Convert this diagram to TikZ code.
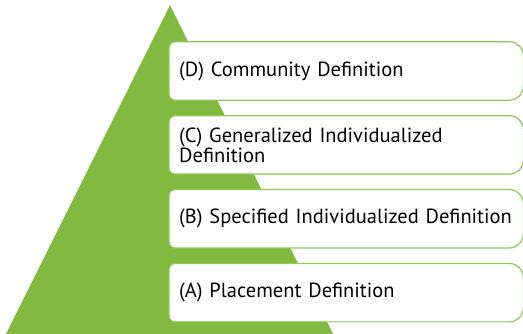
\documentclass[tikz,border=0pt]{standalone}
\usepackage{fontspec}
\setmainfont{PT Sans}
\usetikzlibrary{positioning}

\definecolor{leafgreen}{RGB}{130,186,65}
\definecolor{rimgreen}{RGB}{146,200,88}

% tight word spacing for the level labels
\newcommand\levelfont{\fontsize{20.5}{20}\selectfont\spaceskip=0.11em\relax}

\tikzset{
  level/.style={fill=white, rounded corners=6pt, minimum width=354pt,
    minimum height=58pt, inner xsep=10pt, text width=334pt, align=left,
    font=\levelfont},
  rim/.style={draw=rimgreen, line width=1.2pt}
}

\begin{document}
\begin{tikzpicture}[x=1pt,y=-1pt]
  \useasboundingbox (0,0) rectangle (523,334);

  % the pyramid behind the levels
  \fill[leafgreen] (170,5) -- (333,334) -- (6,334) -- cycle;

  \node[level, anchor=west] (d) at (169,71) {(D) Community Definition};
  \node[level, below=15.5pt of d] (c) {(C) Generalized Individualized\\Definition};
  \node[level, below=15.5pt of c] (b) {(B) Specified Individualized Definition};
  \node[level, below=15.5pt of b] (a) {(A) Placement Definition};

  % outlines, rounder on the right
  \foreach \n in {d,c,b,a}
    \draw[rim] (\n.north) [rounded corners=14pt] -- (\n.north east) -- (\n.south east)
      -- (\n.south) [rounded corners=6pt] -- (\n.south west) -- (\n.north west) -- cycle;
\end{tikzpicture}
\end{document}
